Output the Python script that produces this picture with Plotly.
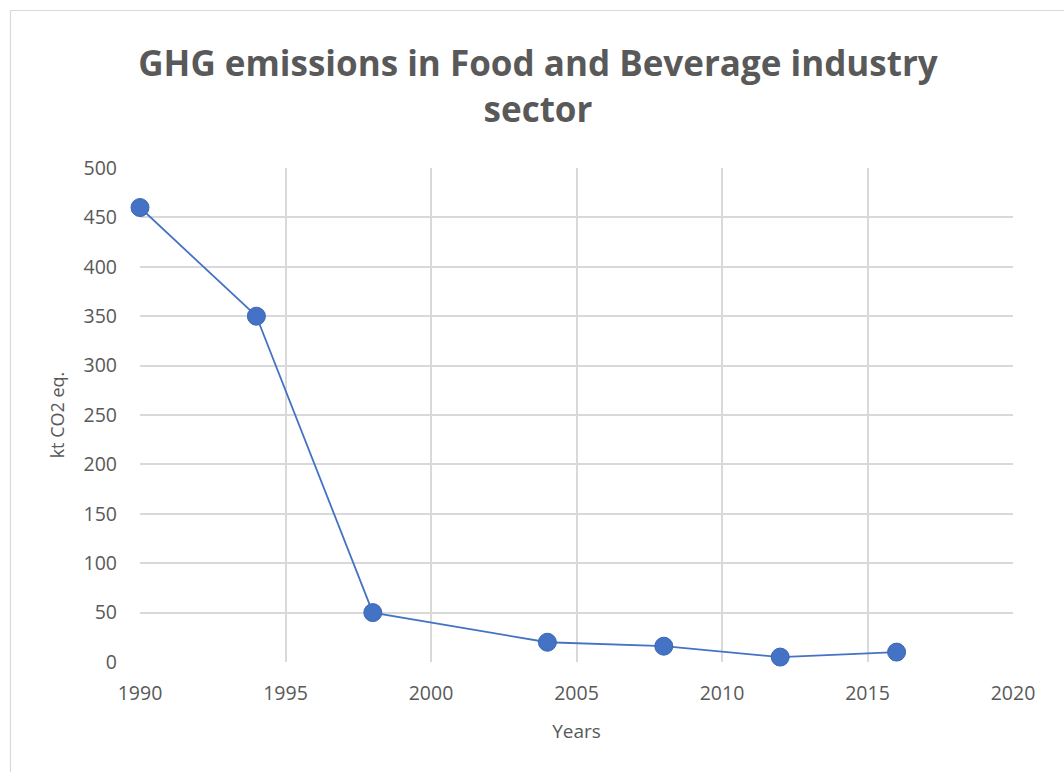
import plotly.graph_objects as go

# GHG emissions of the food and beverage industry sector
years = [1990, 1994, 1998, 2004, 2008, 2012, 2016]
emissions_kt = [460, 350, 50, 20, 16, 5, 10]

x_ticks = [1990, 1995, 2000, 2005, 2010, 2015, 2020]
y_ticks = [0, 50, 100, 150, 200, 250, 300, 350, 400, 450, 500]

BLUE = "#4472C4"
GRID = "#D9D9D9"
TEXT = "#595959"
FONT = "Open Sans"

W, H = 1064, 772
L, R, T, B = 140, 51, 168, 110
pw, ph = W - L - R, H - T - B

fig = go.Figure()

fig.add_trace(go.Scatter(
    x=years, y=emissions_kt, mode="lines+markers",
    line=dict(color=BLUE, width=1.8),
    marker=dict(size=18, color=BLUE, line=dict(color="#3B66B5", width=1)),
    cliponaxis=False,
    showlegend=False,
))


def px_x(p):
    return (p - L) / pw


def px_y(p):
    return (H - B - p) / ph


# outer chart border
fig.add_shape(type="rect", xref="paper", yref="paper",
              x0=px_x(10.5), x1=px_x(1080), y0=px_y(790), y1=px_y(10.5),
              line=dict(color=GRID, width=1.2), layer="below")

fig.update_layout(
    width=W, height=H,
    margin=dict(l=L, r=R, t=T, b=B),
    paper_bgcolor="white", plot_bgcolor="white",
    font=dict(family=FONT, color=TEXT),
    title=dict(
        text="<b>GHG emissions in Food and Beverage industry<br>sector</b>",
        font=dict(size=35, color=TEXT, family=FONT),
        x=538 / W, xanchor="center", xref="container",
        y=1 - 76 / H, yanchor="middle", yref="container",
    ),
    xaxis=dict(
        range=[1990, 2020], tickvals=x_ticks, ticktext=[str(v) for v in x_ticks],
        showgrid=True, gridcolor=GRID, gridwidth=1.5,
        showline=False, zeroline=False, ticks="",
        tickfont=dict(size=19.5, color=TEXT), ticklabelstandoff=17,
        title=dict(text="Years", font=dict(size=19, color=TEXT), standoff=20),
    ),
    yaxis=dict(
        range=[0, 500], tickvals=y_ticks,
        showgrid=True, gridcolor=GRID, gridwidth=1.5,
        showline=False, zeroline=False, ticks="",
        tickfont=dict(size=19.5, color=TEXT), ticklabelstandoff=22,
        title=dict(text="kt CO2 eq.", font=dict(size=18, color=TEXT), standoff=14),
    ),
)

fig.write_html("out.html")
